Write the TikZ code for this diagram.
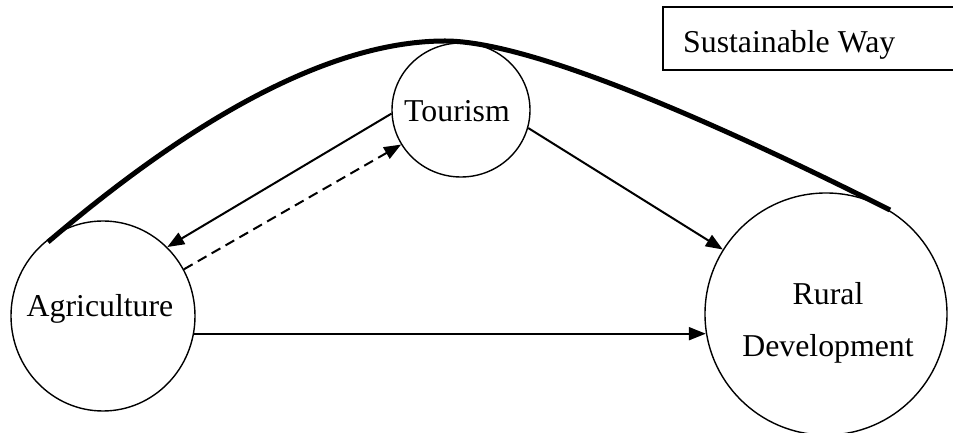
\documentclass[tikz,border=0pt]{standalone}
\usepackage{fontspec}
\setmainfont{Liberation Serif}
\usetikzlibrary{arrows.meta,shapes.geometric}
\tikzset{
  ell/.style={ellipse, draw, line width=1.4pt, inner sep=0pt},
  lbl/.style={inner sep=0pt, font=\fontsize{31.8}{38}\selectfont},
  conn/.style={line width=2pt, -{Triangle[length=17pt,width=13pt]}},
  dconn/.style={conn, dash pattern=on 10pt off 6pt},
  boxsty/.style={draw, line width=1.5pt, inner sep=0pt},
  way/.style={line width=5pt}
}
\begin{document}
\begin{tikzpicture}[x=1pt,y=1pt]
\useasboundingbox (0,0) rectangle (953,433);
% circles
\node[ell, minimum width=184pt, minimum height=190pt] (agri) at (103,117) {};
\node[ell, minimum width=138pt, minimum height=134pt] (tour) at (461,323) {};
\node[ell, minimum width=242pt, minimum height=242pt] (rural) at (826,119) {};
% labels
\node[lbl, anchor=base] (agrilbl) at (100,116) {Agriculture};
\node[lbl, anchor=base] (tourlbl) at (457,311) {Tourism};
\node[lbl, anchor=base] (rurallbl) at (828,128) {Rural};
\node[lbl, anchor=base] (devlbl) at (828,76) {Development};
% box
\node[boxsty, minimum width=300pt, minimum height=63pt, anchor=south west] (sbox) at (662,362) {};
\node[lbl, anchor=base west] (sway) at (683,380) {Sustainable Way};
% thick curve
\coordinate (cs) at (48,191);
\coordinate (cp) at (445,392);
\coordinate (ce) at (890,223);
\draw[way] (cs) .. controls (205,325) and (338,392) .. (cp)
              .. controls (516,392) and (665,336) .. (ce);
% connectors
\draw[conn] (tour.183) -- (agri.47);
\draw[dconn] (agri.30) -- (tour.210);
\draw[conn] (tour.-15) -- (rural.148);
\draw[conn] (agri.-11) -- (agri.-11 -| rural.189);
\end{tikzpicture}
\end{document}
